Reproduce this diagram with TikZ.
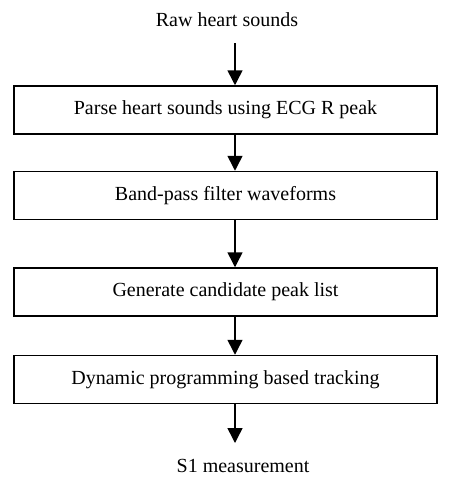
\documentclass[tikz,border=0pt]{standalone}
\usepackage{fontspec}
\setmainfont{Liberation Serif}
\usetikzlibrary{arrows.meta}
\begin{document}
\begin{tikzpicture}[x=1pt,y=1pt,
  stepbox/.style={draw,line width=1.5pt,minimum width=423pt,minimum height=48pt,inner sep=0pt,font=\fontsize{20}{24}\selectfont},
  lbl/.style={inner sep=0pt,font=\fontsize{20}{24}\selectfont},
  arr/.style={line width=1.5pt,-{Triangle[length=15pt,width=15pt]}}]
\useasboundingbox (0,0) rectangle (450,-479);
\node[lbl] (raw) at (227,-20) {Raw heart sounds};
\node[stepbox] (b1) at (225.5,-110) {Parse heart sounds using ECG R peak};
\node[stepbox] (b2) at (225.5,-195.5) {Band-pass filter waveforms};
\node[stepbox] (b3) at (225.5,-292) {Generate candidate peak list};
\node[stepbox] (b4) at (225.5,-379.5) {Dynamic programming based tracking};
\node[lbl] (s1) at (243,-466) {S1 measurement};
\coordinate (c0) at (235,-43);
\coordinate (c5) at (235,-443);
\draw[arr] (c0) -- (c0 |- b1.north);
\draw[arr] ([xshift=9.5pt]b1.south) -- ([xshift=9.5pt]b2.north);
\draw[arr] ([xshift=9.5pt]b2.south) -- ([xshift=9.5pt]b3.north);
\draw[arr] ([xshift=9.5pt]b3.south) -- ([xshift=9.5pt]b4.north);
\draw[arr] ([xshift=9.5pt]b4.south) -- (c5);
\end{tikzpicture}
\end{document}
